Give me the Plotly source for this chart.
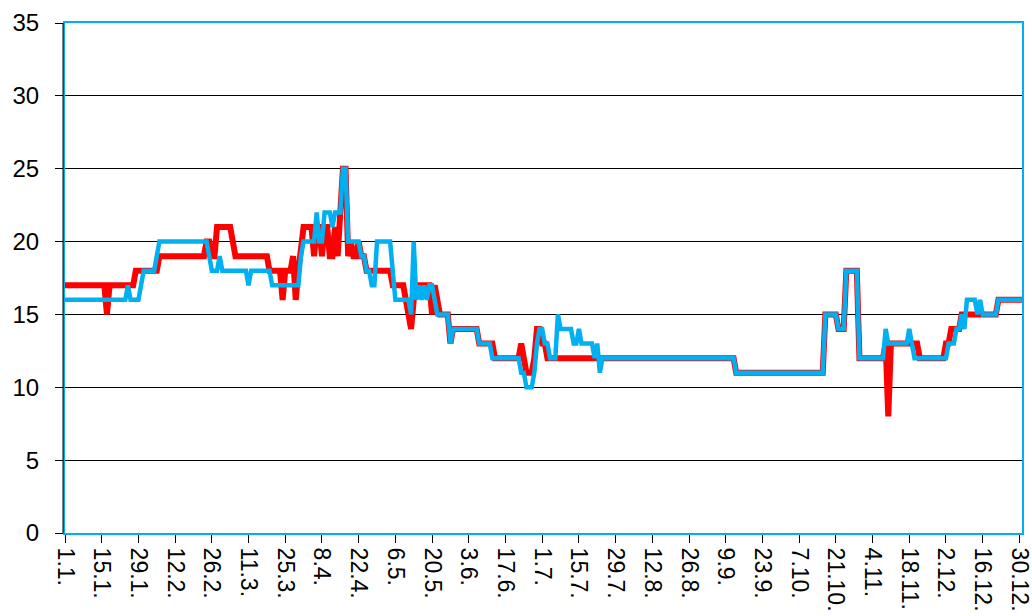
import plotly.graph_objects as go

# Day-of-year tick labels (leap year, every 14 days)
tick_labels = ["1.1.", "15.1.", "29.1.", "12.2.", "26.2.", "11.3.", "25.3.", "8.4.",
               "22.4.", "6.5.", "20.5.", "3.6.", "17.6.", "1.7.", "15.7.", "29.7.",
               "12.8.", "26.8.", "9.9.", "23.9.", "7.10.", "21.10.", "4.11.", "18.11.",
               "2.12.", "16.12.", "30.12."]
n_days = 366

# Red series: day index where a new value starts, and that value
red_days = [0, 16, 17, 27, 36, 54, 56, 58, 64, 65, 78, 83, 84, 87, 88, 89, 90, 91,
            95, 96, 98, 99, 101, 103, 104, 105, 106, 108, 109, 110, 112, 113, 115,
            125, 130, 131, 132, 133, 134, 140, 141, 142, 143, 147, 148, 158, 164,
            174, 175, 176, 179, 180, 182, 184, 256, 290, 295, 298, 303, 313, 314,
            315, 326, 336, 338, 342, 356]
red_vals = [17, 15, 17, 18, 19, 20, 19, 21, 20, 19, 18, 16, 18, 19, 16, 18, 20, 21,
            19, 21, 19, 21, 19, 21, 19, 22, 25, 19, 20, 19, 20, 19, 18,
            17, 16, 15, 14, 16, 17, 15, 17, 16, 15, 13, 14, 13, 12,
            13, 12, 11, 12, 14, 13, 12, 11, 15, 14, 18, 12, 13, 8,
            13, 12, 13, 14, 15, 16]

# Blue series: day index where a new value starts, and that value
blue_days = [0, 24, 25, 29, 30, 35, 36, 55, 56, 59, 60, 70, 71, 79, 90, 91, 96, 97,
             99, 102, 103, 106, 108, 113, 115, 117, 119, 125, 126, 132, 133, 134,
             135, 136, 137, 138, 139, 141, 142, 147, 148, 158, 163, 174, 176, 179,
             180, 181, 183, 185, 188, 189, 194, 196, 197, 202, 203, 204, 205, 256,
             290, 295, 298, 303, 313, 314, 322, 323, 324, 337, 340, 342, 343, 344,
             348, 349, 350, 356]
blue_vals = [16, 17, 16, 17, 18, 19, 20, 19, 18, 19, 18, 17, 18, 17, 19, 20, 22, 20,
             22, 21, 22, 25, 20, 19, 18, 17, 20, 18, 16, 15, 20, 16,
             17, 16, 17, 16, 17, 16, 15, 13, 14, 13, 12, 11, 10, 11,
             13, 14, 13, 12, 15, 14, 13, 14, 13, 12, 13, 11, 12, 11,
             15, 14, 18, 12, 14, 13, 14, 13, 12, 13, 14, 15, 14, 16,
             15, 16, 15, 16]


def daily(days, vals, n):
    """Hold each value from its start day until the next change."""
    out = []
    k = 0
    for d in range(n):
        while k + 1 < len(days) and days[k + 1] <= d:
            k += 1
        out.append(vals[k])
    return out


x = list(range(n_days))
red = daily(red_days, red_vals, n_days)
blue = daily(blue_days, blue_vals, n_days)

fig = go.Figure()
fig.add_trace(go.Scatter(x=x, y=red, mode="lines",
                         line=dict(color="#FF0000", width=6), showlegend=False))
fig.add_trace(go.Scatter(x=x, y=blue, mode="lines",
                         line=dict(color="#00B0F0", width=4.5), showlegend=False))

font_family = "Liberation Sans, Arial, sans-serif"

fig.update_layout(
    width=1032, height=616,
    margin=dict(l=65, r=10, t=23, b=83, autoexpand=False),
    paper_bgcolor="white", plot_bgcolor="white",
    xaxis=dict(
        range=[0, n_days - 1],
        tickmode="array",
        tickvals=[14 * i for i in range(len(tick_labels))],
        ticktext=tick_labels,
        tickangle=90,
        tickfont=dict(family=font_family, size=23, color="#000000"),
        ticklabeloverflow="allow",
        ticks="outside", ticklen=8, tickcolor="#000000", tickwidth=1,
        showgrid=False, zeroline=False, automargin=False,
        showline=True, linecolor="#00B0F0", linewidth=2, mirror=True,
    ),
    yaxis=dict(
        range=[0, 35], dtick=5,
        tickfont=dict(family=font_family, size=24, color="#000000"),
        ticks="outside", ticklen=8, tickcolor="#000000", tickwidth=1,
        ticklabelstandoff=11,
        showgrid=True, gridcolor="#000000", gridwidth=1,
        zeroline=False, automargin=False,
        showline=True, linecolor="#00B0F0", linewidth=2, mirror=True,
    ),
    shapes=[dict(type="line", xref="paper", yref="paper",
                 x0=-2 / 957, x1=-2 / 957, y0=0, y1=1,
                 line=dict(color="#000000", width=1))],
)

fig.write_html("out.html")
